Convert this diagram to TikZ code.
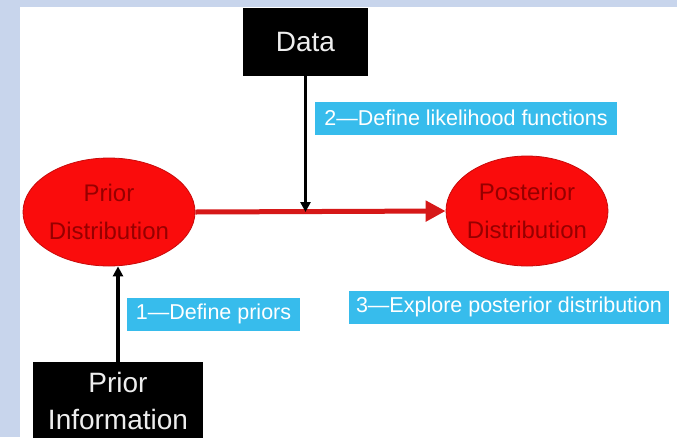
\documentclass[tikz,border=0pt]{standalone}
\usepackage{fontspec}
\setmainfont{Liberation Sans}
\usetikzlibrary{shapes.geometric,arrows.meta}

\definecolor{pagebg}{RGB}{200,213,236}
\definecolor{stepblue}{RGB}{55,188,236}
\definecolor{distred}{RGB}{250,12,12}
\definecolor{flowred}{RGB}{214,24,24}
\definecolor{disttext}{RGB}{150,0,0}
\definecolor{boxtext}{RGB}{238,238,238}

\tikzset{
  blackbox/.style={fill=black, text=boxtext, inner sep=0pt, align=center,
    font=\fontsize{28}{37}\selectfont},
  distnode/.style={ellipse, fill=distred, draw=distred!80!black, line width=0.8pt,
    inner sep=0pt},
  disttxt/.style={text=disttext, align=center, font=\fontsize{24}{38}\selectfont},
  steplabel/.style={fill=stepblue, text=white, inner sep=0pt,
    minimum height=33pt, font=\fontsize{21.5}{24}\selectfont},
  conn/.style={draw=black, line width=3.2pt, -{Triangle[length=10pt,width=10pt]}},
  flow/.style={draw=flowred, line width=5pt, -{Triangle[length=20pt,width=20pt]}}
}

\begin{document}
\begin{tikzpicture}[x=1pt,y=-1pt]
  \useasboundingbox (0,0) rectangle (677,437);
  \clip (0,0) rectangle (677,437);

  % slide background and white panel
  \fill[pagebg] (0,0) rectangle (677,437);
  \fill[white] (20,7) rectangle (677,437);

  % sources of information
  \node[blackbox, minimum width=125pt, minimum height=68pt] (data) at (305.5,42) {Data};
  \node[blackbox, minimum width=170pt, minimum height=78pt] (pinfo) at (118,401)
    {Prior\\Information};

  % distributions
  \node[distnode, minimum width=172pt, minimum height=108pt,
        label={[disttxt]center:{Prior\\Distribution}}] (prior) at (109,212) {};
  \node[distnode, minimum width=162pt, minimum height=110pt,
        label={[disttxt]center:{Posterior\\Distribution}}] (post) at (527,211) {};

  % step labels
  \node[steplabel, minimum width=302pt] (step2) at (466,118) {2---Define likelihood functions};
  \node[steplabel, minimum width=320pt] (step3) at (509,307) {3---Explore posterior distribution};
  \node[steplabel, minimum width=173pt] (step1) at (213.5,314) {1---Define priors};

  % connectors
  \draw[flow] (prior.east) -- (post.west);
  \coordinate (join) at (data.south |- prior.east);
  \draw[conn] (data.south) -- (join);
  \draw[conn] (pinfo.north) -- (pinfo.north |- prior.south);
\end{tikzpicture}
\end{document}
